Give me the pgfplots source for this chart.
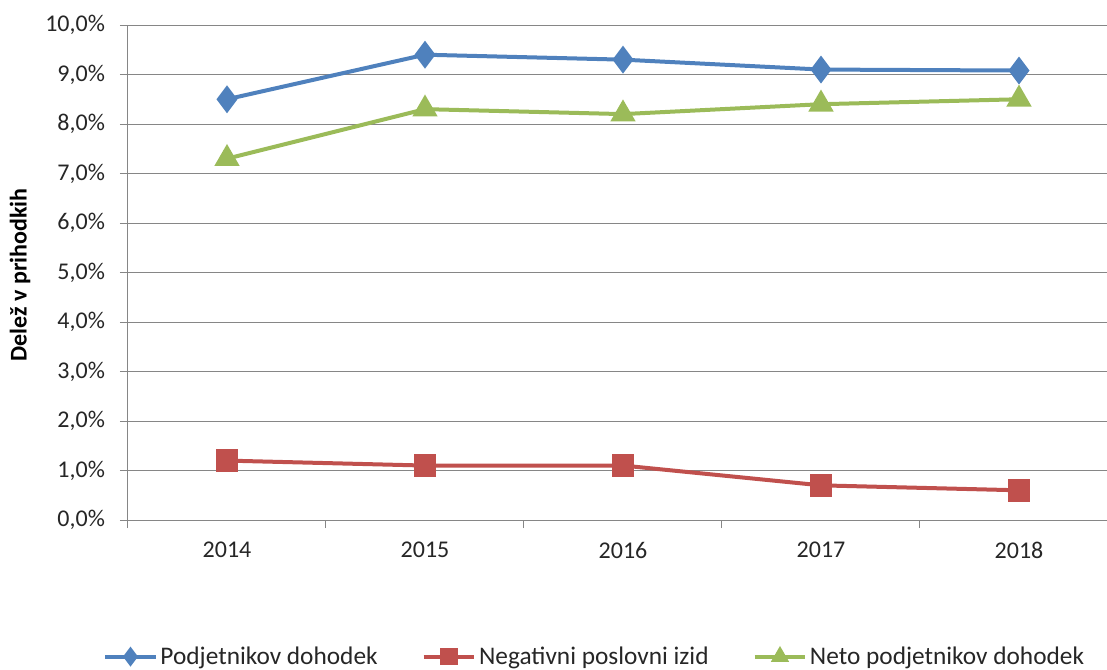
\documentclass[border=0pt]{standalone}
\usepackage{pgfplots}
\pgfplotsset{compat=1.18}
\usepackage{fontspec}
\setmainfont{Carlito}
\definecolor{cblue}{RGB}{79,129,189}
\definecolor{cred}{RGB}{192,80,77}
\definecolor{cgreen}{RGB}{155,187,89}
\definecolor{cgrid}{RGB}{134,134,134}
\definecolor{ctext}{RGB}{38,38,38}
\begin{document}
\begin{tikzpicture}
\path[use as bounding box] (-96pt,-111.75pt) rectangle (734.25pt,390pt);
\clip (-96pt,-111.75pt) rectangle (734.25pt,390pt);
\begin{axis}[
  scale only axis,
  width=742.5pt, height=371.25pt,
  xmin=-0.5, xmax=4.5,
  ymin=0, ymax=10,
  axis x line*=bottom, axis y line*=left,
  axis line style={cgrid, line width=0.75pt},
  xtick={-0.5,0.5,1.5,2.5,3.5,4.5},
  xticklabels={2014,2015,2016,2017,2018},
  x tick label as interval,
  ytick={0,1,...,10},
  yticklabel={\pgfmathprintnumber[fixed,fixed zerofill,precision=1,use comma]{\tick}\%},
  /pgf/number format/assume math mode=true,
  tick align=outside,
  major tick length=6pt,
  tick style={cgrid, line width=0.75pt},
  ymajorgrids,
  grid style={cgrid, line width=0.75pt},
  tick label style={font=\fontsize{18}{21.6}\selectfont, text=ctext},
  xticklabel style={yshift=-7pt},
  yticklabel style={xshift=-7.75pt},
  ylabel={\textbf{Delež v prihodkih}},
  every axis y label/.style={at={(axis description cs:-0.1091,0.495)}, rotate=90, anchor=center,
    font=\fontsize{18}{21.6}\selectfont, text=black},
  legend columns=3,
  legend style={at={(0.4717,-0.276)}, anchor=center, draw=none, fill=none,
    font=\fontsize{19}{22.8}\selectfont, text=ctext,
    /tikz/every even column/.append style={column sep=31pt},
    cells={anchor=west}, inner xsep=2pt},
  legend image code/.code={\draw[mark repeat=2,mark phase=2,mark size=5pt] plot coordinates {(0pt,0pt)(19pt,0pt)(38pt,0pt)};},
  clip=false,
]
\addplot[cblue, line width=3pt, mark=diamond*, mark size=8pt, mark options={solid}]
  coordinates {(0,8.5)(1,9.4)(2,9.3)(3,9.1)(4,9.08)};
\addlegendentry{Podjetnikov dohodek}
\addplot[cred, line width=3pt, mark=square*, mark size=7pt, mark options={solid}]
  coordinates {(0,1.2)(1,1.1)(2,1.1)(3,0.7)(4,0.6)};
\addlegendentry{Negativni poslovni izid}
\addplot[cgreen, line width=3pt, mark=triangle*, mark size=8pt, mark options={solid}]
  coordinates {(0,7.3)(1,8.3)(2,8.2)(3,8.4)(4,8.5)};
\addlegendentry{Neto podjetnikov dohodek}
\end{axis}
\end{tikzpicture}
\end{document}
